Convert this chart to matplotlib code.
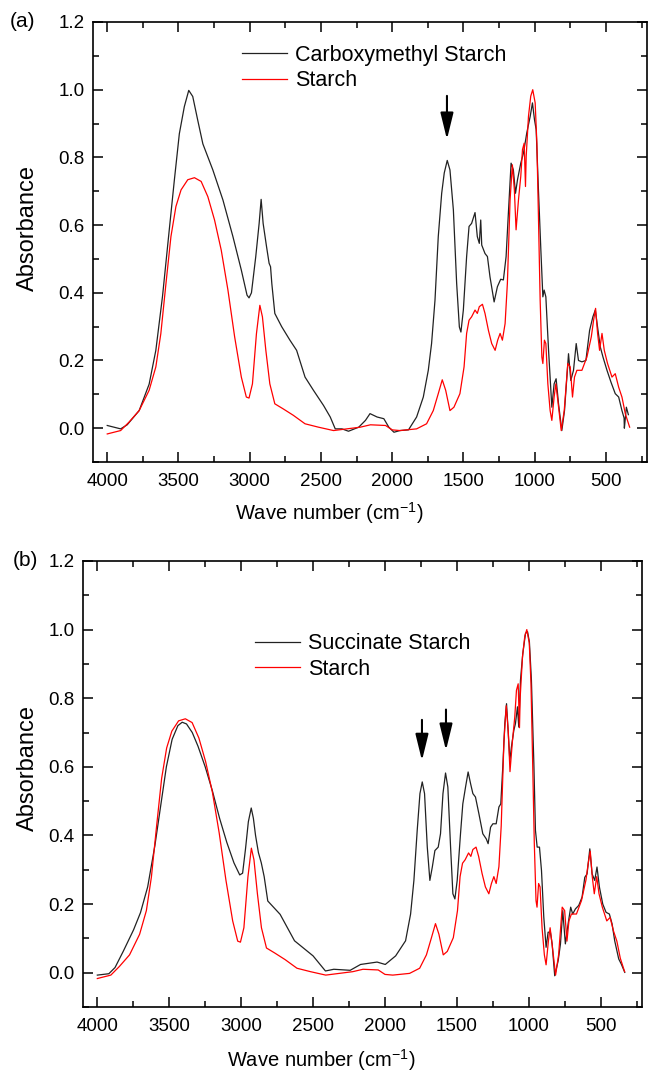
import numpy as np
import matplotlib
matplotlib.use('Agg')
from matplotlib import pyplot as plt
from matplotlib.ticker import MultipleLocator, FormatStrFormatter

plt.rcParams['font.family'] = ['Liberation Sans', 'DejaVu Sans']
plt.rcParams['mathtext.fontset'] = 'custom'
plt.rcParams['mathtext.rm'] = 'Liberation Sans'
plt.rcParams['mathtext.it'] = 'Liberation Sans'

# starch (red, same in both panels)
starch_wn = [4000, 3906, 3847, 3776, 3706, 3659, 3624, 3588, 3553, 3518, 3482, 3435, 3388, 3341, 3294,
             3247, 3200, 3153, 3106, 3059, 3024, 3005, 2981, 2953, 2929, 2911, 2887, 2859, 2824, 2765,
             2694, 2612, 2518, 2412, 2318, 2224, 2153, 2047, 2000, 1946, 1829, 1759, 1712, 1677, 1649,
             1625, 1595, 1567, 1525, 1496, 1478, 1461, 1443, 1419, 1403, 1389, 1367, 1349, 1325, 1302,
             1278, 1260, 1243, 1227, 1208, 1192, 1173, 1157, 1143, 1131, 1114, 1098, 1086, 1074, 1065,
             1060, 1044, 1028, 1014, 997, 985, 974, 962, 950, 943, 932, 922, 908, 892, 880,
             864, 852, 838, 814, 793, 768, 751, 735, 721, 704, 669, 634, 603, 587, 573,
             559, 545, 528, 512, 489, 458, 435, 411, 388, 364, 334]
starch_abs = [-0.017, -0.007, 0.018, 0.052, 0.112, 0.181, 0.279, 0.427, 0.566, 0.655, 0.704, 0.734, 0.740, 0.729, 0.684,
              0.615, 0.526, 0.408, 0.270, 0.151, 0.092, 0.089, 0.131, 0.279, 0.363, 0.329, 0.230, 0.131, 0.072, 0.057,
              0.038, 0.013, 0.003, -0.007, -0.002, 0.003, 0.010, 0.008, -0.005, -0.007, -0.002, 0.013, 0.052, 0.102, 0.143,
              0.112, 0.052, 0.062, 0.102, 0.181, 0.280, 0.319, 0.329, 0.349, 0.339, 0.359, 0.366, 0.339, 0.289, 0.250,
              0.230, 0.260, 0.280, 0.260, 0.309, 0.428, 0.675, 0.778, 0.704, 0.586, 0.675, 0.744, 0.823, 0.842, 0.714,
              0.803, 0.921, 0.981, 1.000, 0.961, 0.842, 0.625, 0.378, 0.210, 0.191, 0.260, 0.250, 0.131, 0.052, 0.023,
              0.092, 0.131, 0.082, -0.007, 0.052, 0.191, 0.181, 0.092, 0.151, 0.171, 0.171, 0.210, 0.270, 0.319, 0.354,
              0.280, 0.230, 0.280, 0.230, 0.191, 0.151, 0.161, 0.121, 0.092, 0.042, 0.003]

# carboxymethyl starch (black, panel a)
cms_wn = [4000, 3906, 3860, 3776, 3706, 3659, 3612, 3565, 3529, 3494, 3459, 3428, 3400, 3365, 3329,
          3259, 3188, 3118, 3059, 3019, 3005, 2988, 2958, 2934, 2920, 2906, 2882, 2864, 2854, 2845,
          2824, 2776, 2718, 2671, 2612, 2553, 2482, 2435, 2400, 2353, 2307, 2235, 2188, 2156, 2106,
          2059, 2024, 1988, 1946, 1886, 1829, 1782, 1747, 1724, 1700, 1677, 1653, 1635, 1614, 1595,
          1571, 1548, 1529, 1518, 1501, 1478, 1461, 1443, 1419, 1403, 1389, 1379, 1372, 1349, 1332,
          1314, 1285, 1262, 1239, 1220, 1201, 1185, 1166, 1150, 1135, 1121, 1098, 1079, 1056, 1032,
          1016, 1002, 990, 974, 957, 943, 934, 922, 903, 880, 864, 850, 833, 810, 791,
          763, 747, 728, 709, 693, 669, 641, 615, 592, 575, 556, 540, 521, 493, 465,
          435, 411, 388, 373, 371, 357, 343]
cms_abs = [0.008, -0.002, 0.010, 0.052, 0.130, 0.230, 0.390, 0.585, 0.733, 0.870, 0.950, 0.998, 0.980, 0.910, 0.840,
           0.763, 0.674, 0.566, 0.467, 0.393, 0.385, 0.400, 0.506, 0.605, 0.676, 0.605, 0.536, 0.487, 0.477, 0.427,
           0.339, 0.300, 0.260, 0.230, 0.151, 0.112, 0.067, 0.033, -0.002, -0.002, -0.009, 0.003, 0.023, 0.043, 0.033,
           0.028, 0.003, -0.012, -0.007, -0.005, 0.033, 0.092, 0.171, 0.250, 0.378, 0.566, 0.694, 0.754, 0.791, 0.763,
           0.645, 0.428, 0.299, 0.284, 0.349, 0.507, 0.596, 0.605, 0.637, 0.566, 0.546, 0.615, 0.541, 0.516, 0.507,
           0.447, 0.373, 0.418, 0.440, 0.438, 0.507, 0.635, 0.783, 0.763, 0.694, 0.734, 0.783, 0.813, 0.872, 0.921,
           0.961, 0.912, 0.882, 0.704, 0.526, 0.388, 0.408, 0.388, 0.230, 0.062, 0.131, 0.146, 0.072, -0.007, 0.052,
           0.220, 0.141, 0.171, 0.250, 0.200, 0.196, 0.200, 0.289, 0.329, 0.349, 0.289, 0.240, 0.210, 0.171, 0.136,
           0.102, 0.092, 0.052, 0.030, 0.000, 0.062, 0.040]

# succinate starch (black, panel b)
succ_wn = [4000, 3920, 3877, 3819, 3748, 3700, 3650, 3600, 3560, 3520, 3480, 3440, 3410, 3380, 3340,
           3300, 3250, 3200, 3150, 3100, 3050, 3010, 2990, 2970, 2950, 2930, 2915, 2900, 2880, 2860,
           2840, 2815, 2729, 2629, 2500, 2414, 2356, 2242, 2170, 2055, 1998, 1926, 1857, 1822, 1799,
           1776, 1757, 1741, 1725, 1706, 1688, 1671, 1653, 1630, 1614, 1597, 1579, 1563, 1544, 1528,
           1514, 1498, 1475, 1459, 1440, 1422, 1405, 1389, 1371, 1347, 1320, 1296, 1283, 1266, 1250,
           1227, 1208, 1195, 1181, 1167, 1155, 1144, 1132, 1121, 1104, 1093, 1079, 1070, 1058, 1042,
           1023, 1009, 996, 982, 965, 954, 942, 926, 912, 896, 880, 866, 850, 838, 820,
           796, 780, 764, 746, 727, 709, 695, 676, 653, 630, 611, 595, 576, 560, 542,
           526, 509, 486, 463, 440, 421, 403, 375, 357, 333]
succ_abs = [-0.007, -0.003, 0.015, 0.063, 0.125, 0.175, 0.250, 0.370, 0.485, 0.600, 0.680, 0.720, 0.730, 0.725, 0.700,
            0.660, 0.600, 0.530, 0.450, 0.380, 0.320, 0.285, 0.290, 0.360, 0.440, 0.480, 0.450, 0.400, 0.350, 0.320,
            0.280, 0.209, 0.170, 0.093, 0.049, 0.005, 0.010, 0.007, 0.024, 0.031, 0.024, 0.049, 0.093, 0.171, 0.269,
            0.415, 0.522, 0.556, 0.522, 0.366, 0.269, 0.308, 0.356, 0.366, 0.405, 0.522, 0.582, 0.541, 0.366, 0.230,
            0.215, 0.269, 0.405, 0.492, 0.541, 0.585, 0.551, 0.522, 0.512, 0.463, 0.405, 0.390, 0.376, 0.424, 0.434,
            0.434, 0.483, 0.492, 0.600, 0.726, 0.784, 0.707, 0.619, 0.658, 0.707, 0.726, 0.775, 0.716, 0.853, 0.930,
            0.989, 0.994, 0.964, 0.853, 0.609, 0.415, 0.366, 0.366, 0.298, 0.162, 0.074, 0.118, 0.118, 0.084, -0.009,
            0.035, 0.084, 0.181, 0.084, 0.142, 0.191, 0.171, 0.186, 0.196, 0.220, 0.278, 0.288, 0.361, 0.288, 0.269,
            0.308, 0.249, 0.200, 0.176, 0.171, 0.142, 0.093, 0.040, 0.025, 0.001]

fig = plt.figure(figsize=(6.48, 10.73), dpi=100)
ax1 = fig.add_axes([0.1435, 0.5694, 0.855, 0.4101])
ax2 = fig.add_axes([0.128, 0.0615, 0.863, 0.4157])

# ax, black series, legend anchor, xlabel/ylabel positions (axes fraction)
panels = [(ax1, cms_wn, cms_abs, 'Carboxymethyl Starch', '(a)', (0.269, 0.948), -0.117, 0.532, -0.116, -0.15),
          (ax2, succ_wn, succ_abs, 'Succinate Starch', '(b)', (0.308, 0.838), -0.098, 0.536, -0.12, -0.125)]

for ax, wn, ab, name, tag, leg_pos, ylab_x, ylab_y, xlab_y, tag_x in panels:
    ax.plot(wn, ab, color='#222222', lw=0.9, label=name)
    ax.plot(starch_wn, starch_abs, color='red', lw=0.9, label='Starch')
    ax.set_xlim(4100, 212)
    ax.set_ylim(-0.1, 1.2)
    ax.xaxis.set_major_locator(MultipleLocator(500))
    ax.xaxis.set_minor_locator(MultipleLocator(250))
    ax.yaxis.set_major_locator(MultipleLocator(0.2))
    ax.yaxis.set_minor_locator(MultipleLocator(0.1))
    ax.yaxis.set_major_formatter(FormatStrFormatter('%.1f'))
    ax.tick_params(which='both', direction='in', top=True, right=True, labelsize=13.5)
    ax.tick_params(which='major', length=7, width=1.1)
    ax.tick_params(axis='x', pad=8)
    ax.tick_params(axis='y', pad=6)
    ax.tick_params(which='minor', length=4, width=1.1)
    for s in ax.spines.values():
        s.set_linewidth(1.2)
    ax.set_xlabel('Wave number (cm$^{-1}$)', fontsize=14.5)
    ax.xaxis.set_label_coords(0.426, xlab_y)
    ax.xaxis.label.set_va('center')
    ax.set_ylabel('Absorbance', fontsize=17)
    ax.yaxis.set_label_coords(ylab_x, ylab_y)
    ax.yaxis.label.set_va('center')
    ax.legend(loc='upper left', bbox_to_anchor=leg_pos, frameon=False, fontsize=15.5,
              handlelength=2.1, handletextpad=0.35, labelspacing=0.2, borderaxespad=0, borderpad=0)
    ax.text(tag_x, 1.0, tag, transform=ax.transAxes, fontsize=15, va='center')

arrow = dict(arrowstyle='-|>,head_length=0.9,head_width=0.22', color='black', lw=1.5, mutation_scale=18)
ax1.annotate('', xy=(1616, 0.845), xytext=(1616, 0.99), arrowprops=arrow)
ax2.annotate('', xy=(1743, 0.61), xytext=(1743, 0.745), arrowprops=arrow)
ax2.annotate('', xy=(1576, 0.64), xytext=(1576, 0.775), arrowprops=arrow)

fig.savefig('out.png', dpi=100)
